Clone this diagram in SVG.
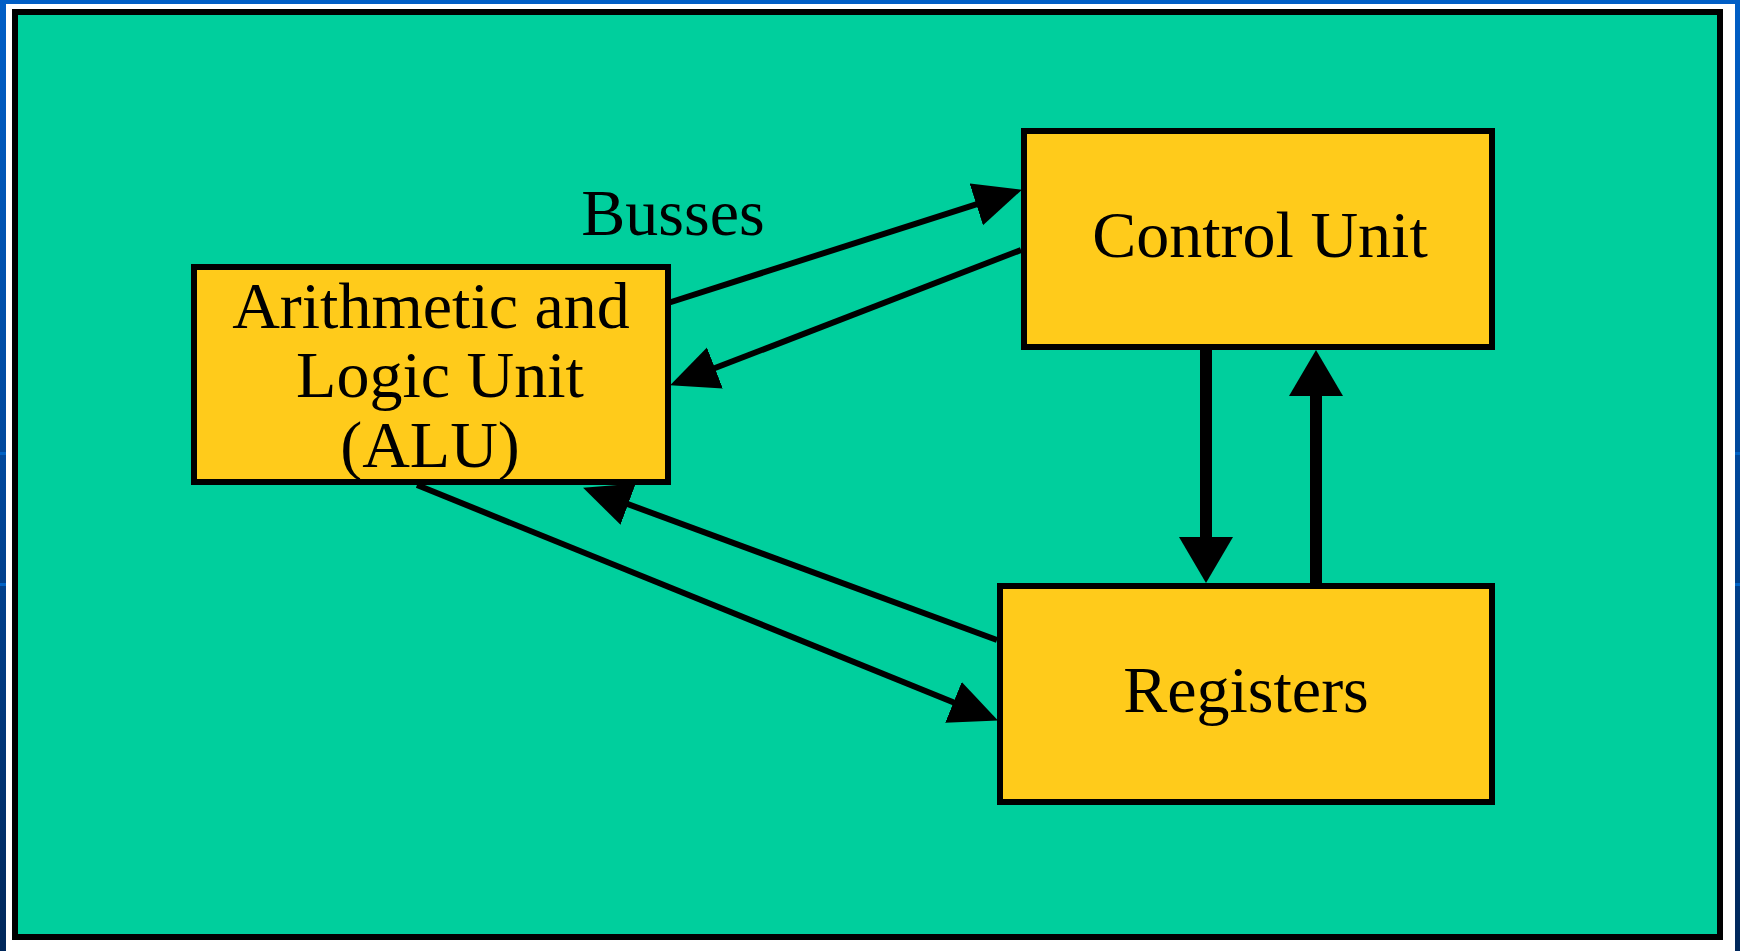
<svg xmlns="http://www.w3.org/2000/svg" width="1740" height="951" viewBox="0 0 1740 951">
  <defs>
    <linearGradient id="bgBlue" x1="0" y1="0" x2="0" y2="1">
      <stop offset="0" stop-color="#005EC6"/>
      <stop offset="0.5" stop-color="#00479A"/>
      <stop offset="1" stop-color="#00275A"/>
    </linearGradient>
    <!-- arrowhead for the thin bus lines -->
    <marker id="headThin" markerUnits="userSpaceOnUse" markerWidth="50" markerHeight="46" viewBox="0 0 50 46" refX="27" refY="22" orient="auto">
      <path d="M0,0 L48,22 L0,44 Z" fill="#000"/>
    </marker>
    <!-- arrowhead for the thick vertical lines -->
    <marker id="headThick" markerUnits="userSpaceOnUse" markerWidth="48" markerHeight="56" viewBox="0 0 48 56" refX="26" refY="27" orient="auto">
      <path d="M0,0 L46,27 L0,54 Z" fill="#000"/>
    </marker>
  </defs>
  <style>
    .box { fill: #FFCB1B; stroke: #000; stroke-width: 6; }
    .lbl { font-family: "Liberation Serif", "Times New Roman", serif; font-size: 66px; fill: #000; text-anchor: middle; }
    .bus { stroke: #000; stroke-width: 6; fill: none; }
    .thick { stroke: #000; stroke-width: 12; fill: none; }
  </style>

  <!-- page background and frame -->
  <rect x="0" y="0" width="1740" height="951" fill="url(#bgBlue)"/>
  <rect x="0" y="452" width="6" height="3" fill="#0062C4"/>
  <rect x="0" y="583" width="6" height="3" fill="#0062C4"/>
  <rect x="1735" y="452" width="5" height="3" fill="#0062C4"/>
  <rect x="1735" y="583" width="5" height="3" fill="#0062C4"/>
  <rect x="6" y="4" width="1729" height="947" fill="#FFFFFF"/>
  <rect x="15" y="12" width="1705" height="925" fill="#00CF9D" stroke="#000" stroke-width="6"/>

  <g id="connectors">
    <!-- ALU <-> Control Unit busses -->
    <line class="bus" x1="668" y1="303" x2="1002" y2="196.1" marker-end="url(#headThin)"/>
    <line class="bus" x1="1021" y1="250" x2="689.7" y2="377.8" marker-end="url(#headThin)"/>
    <!-- ALU <-> Registers busses -->
    <line class="bus" x1="417" y1="485" x2="978.5" y2="712.5" marker-end="url(#headThin)"/>
    <line class="bus" x1="997" y1="640" x2="602.8" y2="494.9" marker-end="url(#headThin)"/>
    <!-- Control Unit <-> Registers -->
    <line class="thick" x1="1206" y1="347" x2="1206" y2="563" marker-end="url(#headThick)"/>
    <line class="thick" x1="1316" y1="585" x2="1316" y2="370" marker-end="url(#headThick)"/>
    <text id="label-busses" class="lbl" x="673" y="235">Busses</text>
  </g>

  <g id="node-alu">
    <rect class="box" x="194" y="267" width="474" height="215"/>
    <text class="lbl" x="431" y="328">Arithmetic and</text>
    <text class="lbl" x="440" y="397">Logic Unit</text>
    <text class="lbl" x="430" y="467">(ALU)</text>
  </g>

  <g id="node-control">
    <rect class="box" x="1024" y="131" width="468" height="216"/>
    <text class="lbl" x="1260" y="257">Control Unit</text>
  </g>

  <g id="node-registers">
    <rect class="box" x="1000" y="586" width="492" height="216"/>
    <text class="lbl" x="1246" y="712">Registers</text>
  </g>
</svg>
